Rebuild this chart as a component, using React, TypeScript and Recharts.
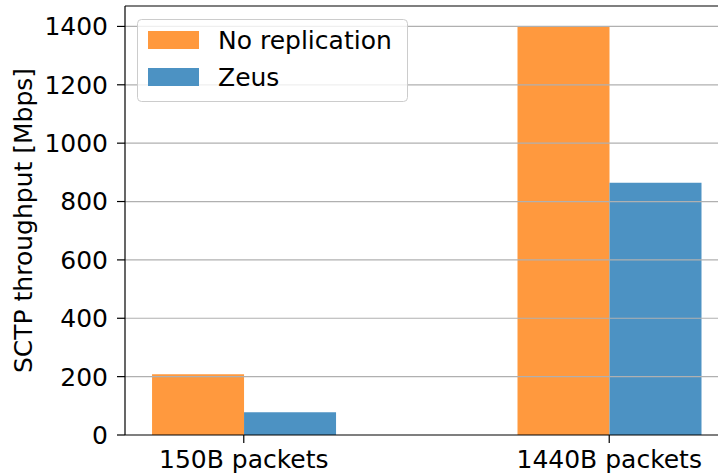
import React from 'react';
import {
	Bar,
	BarChart,
	Legend,
	ReferenceLine,
	XAxis,
	YAxis
} from 'recharts';

const categories = ['150B packets', '1440B packets'];
const noReplication = [208, 1398];
const zeus = [78, 864];
const yTicks = [0, 200, 400, 600, 800, 1000, 1200, 1400];

const seriesNames = ['No replication', 'Zeus'];
const seriesColors = ['#ff993e', '#4c92c3'];

const data = categories.map((name, i) => ({
	x: i,
	name,
	noReplication: noReplication[i],
	zeus: zeus[i]
}));

const FONT = '"DejaVu Sans", sans-serif';

const LegendBox = () => (
	<svg width={272} height={84} style={{ display: 'block' }}>
		<rect x={0.5} y={0.5} width={270} height={82} rx={4} ry={4}
			fill="rgba(255,255,255,0.8)" stroke="#cccccc" strokeWidth={1} />
		{seriesNames.map((n, i) => (
			<g key={n}>
				<rect x={11} y={12 + i * 37} width={51} height={18} fill={seriesColors[i]} />
				<text x={81} y={30 + i * 37} fontSize={25} fontFamily={FONT} fill="#000">{n}</text>
			</g>
		))}
	</svg>
);

const YLabel = () => (
	<text
		x={32}
		y={220.5}
		transform="rotate(-90 32 220.5)"
		textAnchor="middle"
		fontSize={25}
		fontFamily={FONT}
		fill="#000"
	>
		SCTP throughput [Mbps]
	</text>
);

const App: React.FC = () => {
	const tickStyle = { fontSize: 25, fontFamily: FONT, fill: '#000' };
	return (
		<div style={{ position: 'absolute', left: 0, top: 0, width: 718, height: 474, overflow: 'hidden', background: '#fff' }}>
			<BarChart
				width={740}
				height={474}
				data={data}
				barGap={0}
				margin={{ top: 6, right: 12, left: 0, bottom: 0 }}
			>
				<XAxis
					dataKey="x"
					type="number"
					domain={[-0.325, 1.325]}
					ticks={[0, 1]}
					interval={0}
					tickFormatter={(v: number) => categories[v]}
					height={39}
					tickSize={8}
					tickMargin={7}
					tick={tickStyle}
					axisLine={{ stroke: '#000', strokeWidth: 1.2 }}
					tickLine={{ stroke: '#000', strokeWidth: 1.2 }}
				/>
				<YAxis
					type="number"
					domain={[0, 1470]}
					ticks={yTicks}
					interval={0}
					width={125}
					tickSize={8}
					tickMargin={9}
					tick={tickStyle}
					axisLine={{ stroke: '#000', strokeWidth: 1.2 }}
					tickLine={{ stroke: '#000', strokeWidth: 1.2 }}
					label={<YLabel />}
				/>
				<Bar dataKey="noReplication" name={seriesNames[0]} fill={seriesColors[0]} barSize={92} isAnimationActive={false} />
				<Bar dataKey="zeus" name={seriesNames[1]} fill={seriesColors[1]} barSize={92} isAnimationActive={false} />
				{yTicks.filter(t => t > 0).map(t => (
					<ReferenceLine key={t} y={t} stroke="#b0b0b0" strokeWidth={1.2} />
				))}
				<ReferenceLine y={1470} stroke="#000" strokeWidth={1.2} />
				<Legend
					content={() => <LegendBox />}
					verticalAlign="top"
					align="left"
					wrapperStyle={{ position: 'absolute', left: 137, top: 19, width: 272, height: 0, overflow: 'visible' }}
				/>
			</BarChart>
		</div>
	);
};

export default App;
